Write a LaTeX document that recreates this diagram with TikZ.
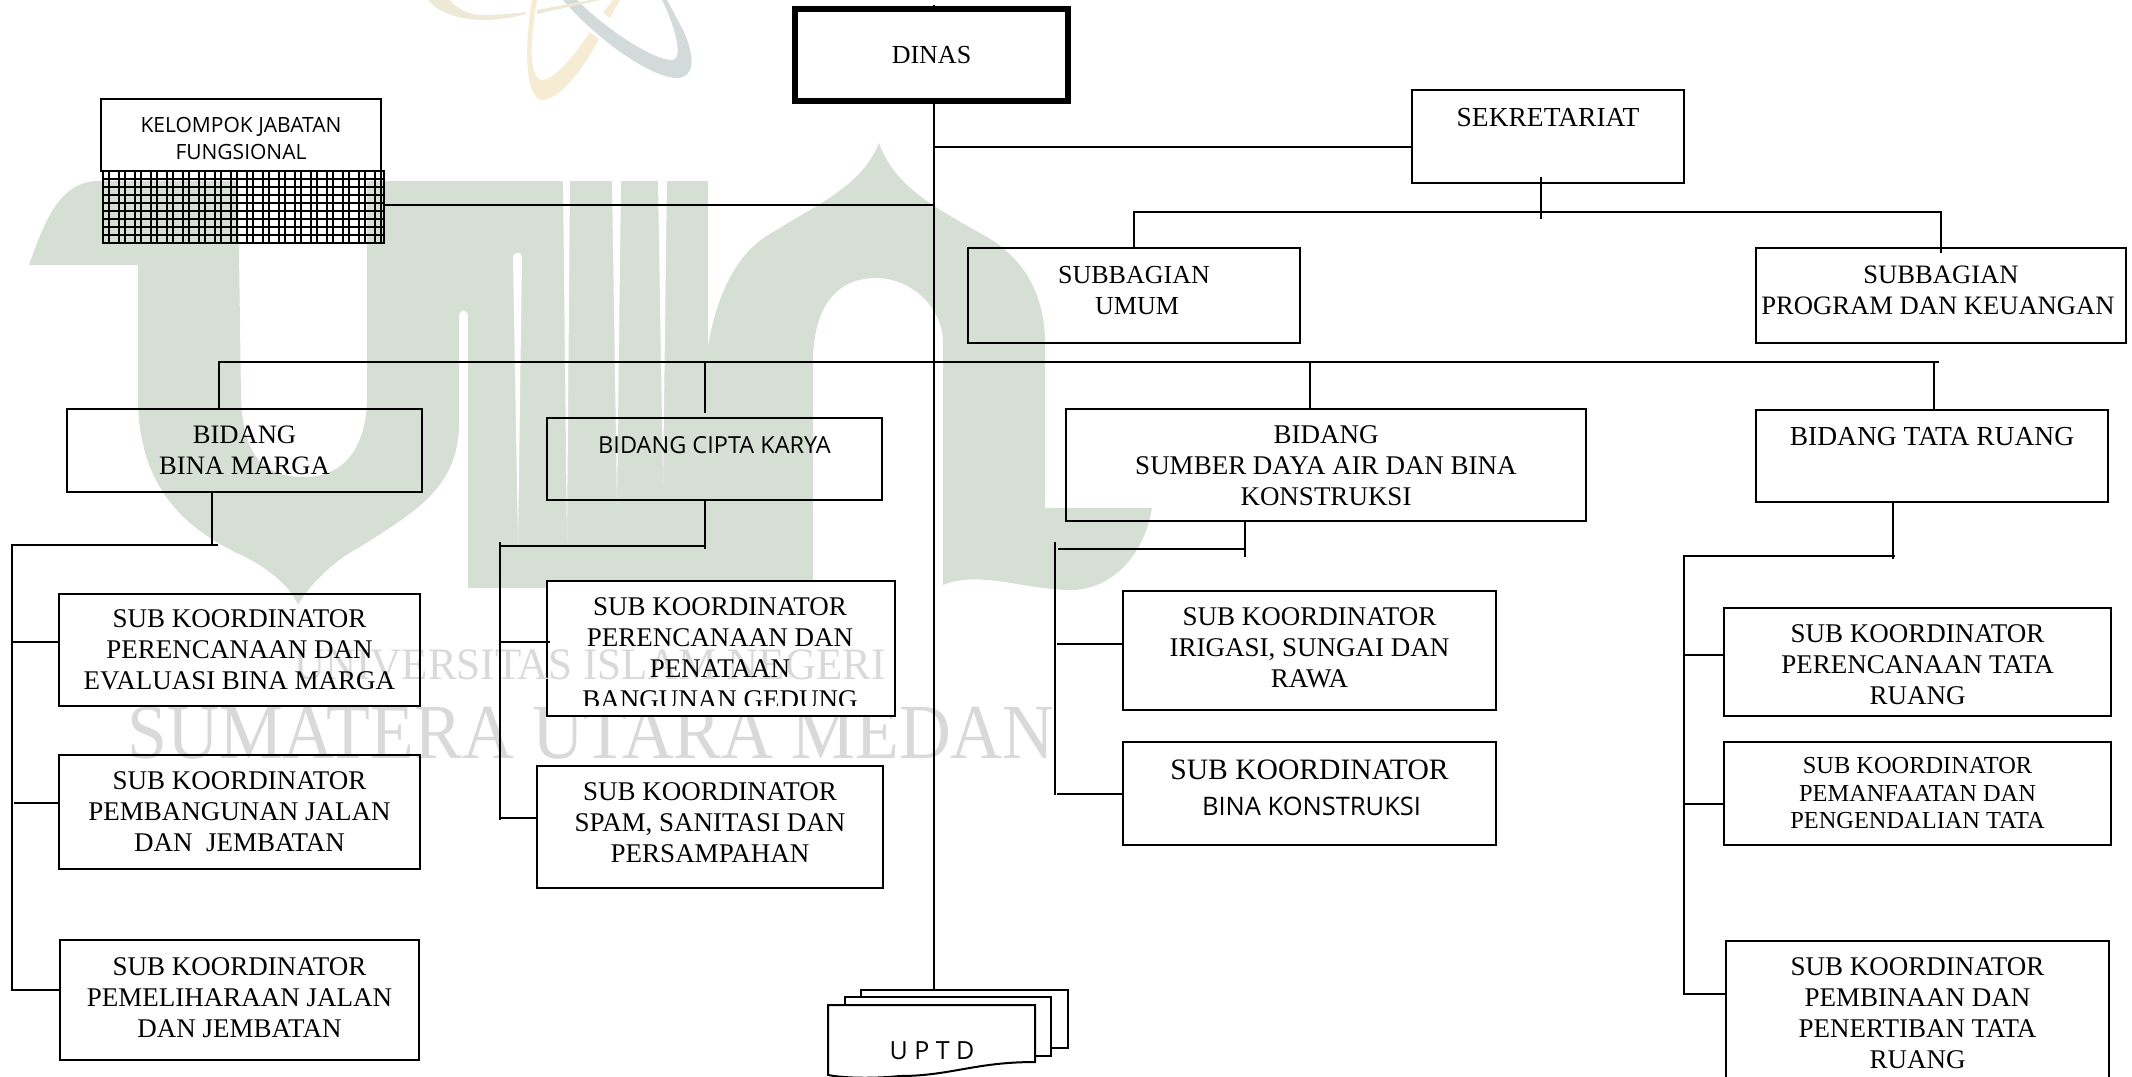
\documentclass[tikz,border=0pt]{standalone}
\usepackage{fontspec}
\setmainfont{Liberation Serif}
\newfontfamily\tahomafont{Open Sans}
\definecolor{markgreen}{HTML}{D6DFD4}
\definecolor{markgrey}{HTML}{D9D9D9}
\definecolor{atomyellow}{HTML}{F6EBD3}
\definecolor{atomblue}{HTML}{D3DBDA}
\definecolor{atombeige}{HTML}{EDE9D6}

\begin{document}
\begin{tikzpicture}[
  x=1pt, y=-1pt,
  line/.style={draw, line width=2pt},
  box/.style={draw, line width=2pt, inner sep=0pt, align=center, font=\fontsize{27}{31}\selectfont},
  sansbox/.style={box, font=\tahomafont\fontsize{21}{27}\selectfont},
  hatchline/.style={draw, line width=1.7pt},
  wmsmall/.style={inner sep=0pt, text=markgrey, transform shape, xscale=0.955, font=\fontsize{45}{45}\selectfont},
  wmlarge/.style={inner sep=0pt, text=markgrey, transform shape, xscale=0.92, font=\fontsize{78}{78}\selectfont}]

  \useasboundingbox (0,0) rectangle (2132,1076);

  % logo behind everything
  \fill[atomyellow] (532,0) .. controls (524,50) and (525,97) .. (542,100) .. controls (563,100) and (590,57) .. (599,39) -- (590,32) .. controls (567,67) and (550,80) .. (543,80) .. controls (528,80) and (530,40) .. (537,0) -- cycle;
  \fill[atomyellow] (610,18) -- (620,0) -- (613,0) -- (603,13) -- cycle;
  \fill[atomblue] (563,0) .. controls (600,43) and (653,78) .. (677,78) .. controls (693,78) and (697,60) .. (683,30) -- (667,0) -- (662,0) .. controls (677,30) and (683,60) .. (672,60) .. controls (653,60) and (607,30) .. (577,0) -- cycle;
  \fill[atombeige] (428,0) .. controls (442,17) and (470,20) .. (483,20) .. controls (500,20) and (515,17) .. (526,14) -- (526,12) .. controls (510,14) and (495,15) .. (483,15) .. controls (470,15) and (458,10) .. (450,0) -- cycle;
  \fill[atombeige] (537,14) -- (537,10) -- (590,0) -- (600,0) -- cycle;

  \fill[markgreen] (29,265) .. controls (46,217) and (61,181) .. (99,181) -- (238,181) -- (241,397)
    .. controls (243,457) and (264,477) .. (305,477) .. controls (344,477) and (367,447) .. (367,397)
    -- (367,181) -- (708,181) -- (708,347) .. controls (716,297) and (735,257) .. (765,237)
    .. controls (819,203) and (861,187) .. (879,143) .. controls (895,187) and (934,207) .. (987,237)
    .. controls (1026,260) and (1045,297) .. (1045,343) -- (1045,508) -- (1152,508)
    .. controls (1144,557) and (1110,590) .. (1071,590) .. controls (1025,590) and (980,570) .. (943,585)
    -- (943,343) .. controls (943,307) and (911,278) .. (876,278) .. controls (834,278) and (813,310) .. (813,363)
    -- (813,588) -- (468,588) -- (468,317) .. controls (468,308) and (459,308) .. (459,317) -- (459,430)
    .. controls (455,490) and (413,513) .. (360,547) .. controls (329,563) and (306,590) .. (298,605)
    .. controls (291,587) and (268,567) .. (237,553) .. controls (168,520) and (138,470) .. (138,397)
    -- (138,265) -- cycle;
  \fill[white] (513,258) .. controls (513,251) and (522,251) .. (522,258) -- (518,543) -- cycle;
  \fill[white] (563,181) -- (570,181) -- (567,543) -- cycle;
  \fill[white] (612,181) -- (621,181) -- (617,505) -- cycle;
  \fill[white] (658,181) -- (667,181) -- (663,483) -- cycle;

  \node[wmlarge] (markLarge) at (591,733) {SUMATERA UTARA MEDAN};
  \node[box, fill=white, minimum width=348pt, minimum height=135pt] (subCiptaA) at (721,648.5) {};
  \node[wmsmall] (markSmall) at (590,665) {UNIVERSITAS ISLAM NEGERI};

  % top boxes
  \node[sansbox, minimum width=280pt, minimum height=72pt] (kelompok) at (241,135) {KELOMPOK JABATAN\\FUNGSIONAL\\[-34pt]~};
  \node[box, minimum width=281pt, minimum height=72pt] (hatch) at (243.5,207) {};
  \node[box, font=\fontsize{27.5}{31}\selectfont, minimum width=272pt, minimum height=93pt] (sekretariat) at (1548,136.5) {SEKRETARIAT\\[7pt]~};
  \node[box, font=\fontsize{26}{31}\selectfont, minimum width=332pt, minimum height=95pt] (subUmum) at (1134,295.5) {SUBBAGIAN\\\hspace*{6pt}UMUM\\[-21pt]~};
  \node[box, font=\fontsize{26.6}{31}\selectfont, minimum width=370pt, minimum height=95pt] (subProgram) at (1941,295.5) {SUBBAGIAN\\\hspace*{-6pt}PROGRAM DAN KEUANGAN\\[-21pt]~};

  \foreach \i in {0,...,17} {
    \draw[hatchline] ({103+16*\i},171) -- ({103+16*\i},243);
    \draw[hatchline] ({109+16*\i},171) -- ({109+16*\i},243);
  }
  \foreach \i in {1,...,8} {
    \draw[hatchline] (103,{171+8*\i}) -- (384,{171+8*\i});
  }

  % bidang row
  \node[box, font=\fontsize{26.6}{31}\selectfont, minimum width=355pt, minimum height=83pt] (binaMarga) at (244.5,450.5) {BIDANG\\BINA MARGA};
  \node[sansbox, font=\tahomafont\fontsize{23.5}{27}\selectfont, minimum width=335pt, minimum height=82pt] (ciptaKarya) at (714.5,459) {BIDANG CIPTA KARYA\\[1pt]~};
  \node[box, minimum width=520pt, minimum height=112pt] (sumberDaya) at (1326,465) {BIDANG\\SUMBER DAYA AIR DAN BINA\\KONSTRUKSI\\[-33pt]~};
  \node[box, font=\fontsize{27.5}{31}\selectfont, minimum width=352pt, minimum height=92pt] (tataRuang) at (1932,456) {BIDANG TATA RUANG\\[9pt]~};

  % sub koordinator
  \node[box, minimum width=361pt, minimum height=112pt] (subMargaA) at (239.5,650) {SUB KOORDINATOR\\PERENCANAAN DAN\\EVALUASI BINA MARGA};
  \node[box, minimum width=361pt, minimum height=114pt] (subMargaB) at (239.5,812) {SUB KOORDINATOR\\PEMBANGUNAN JALAN\\DAN\ \ JEMBATAN};
  \node[box, minimum width=359pt, minimum height=120pt] (subMargaC) at (239.5,1000) {SUB KOORDINATOR\\PEMELIHARAAN JALAN\\DAN JEMBATAN\\[-26pt]~};
  \begin{scope}
    \clip (547,581) rectangle (895,705);
    \node[box, draw=none, anchor=north] (subCiptaAtext) at (720,597) {SUB KOORDINATOR\\PERENCANAAN DAN\\PENATAAN\\BANGUNAN GEDUNG};
  \end{scope}
  \node[box, minimum width=346pt, minimum height=122pt] (subCiptaB) at (710,827) {SUB KOORDINATOR\\SPAM, SANITASI DAN\\PERSAMPAHAN\\[-23pt]~};
  \node[box, minimum width=373pt, minimum height=119pt] (subSumberA) at (1309.5,650.5) {SUB KOORDINATOR\\IRIGASI, SUNGAI DAN\\RAWA\\[-26pt]~};
  \node[box, minimum width=373pt, minimum height=103pt, font=\fontsize{29.6}{36}\selectfont] (subSumberB) at (1309.5,793.5) {SUB KOORDINATOR\\\hspace*{4pt}{\tahomafont\fontsize{25.5}{36}\selectfont BINA KONSTRUKSI}\\[-25pt]~};
  \node[box, minimum width=387pt, minimum height=108pt] (subTataA) at (1917.5,662) {SUB KOORDINATOR\\PERENCANAAN TATA\\RUANG\\[-37pt]~};
  \node[box, minimum width=387pt, minimum height=103pt, font=\fontsize{24.4}{27.5}\selectfont] (subTataB) at (1917.5,793.5) {SUB KOORDINATOR\\PEMANFAATAN DAN\\PENGENDALIAN TATA};
  \node[box, minimum width=383pt, minimum height=169pt] (subTataC) at (1917.5,1025.5) {SUB KOORDINATOR\\PEMBINAAN DAN\\PENERTIBAN TATA\\RUANG\\[-6pt]~};

  % uptd pages
  \node[box, fill=white, minimum width=207pt, minimum height=58pt] (uptdBack) at (964.5,1019) {};
  \node[box, fill=white, minimum width=206pt, minimum height=59pt] (uptdMid) at (948,1026.5) {};
  \draw[line, fill=white] (828,1005) -- (1035,1005) -- (1035,1062) .. controls (975,1062) and (950,1076) .. (900,1076) .. controls (880,1078) and (850,1079) .. (828,1075) -- cycle;
  \node[inner sep=0pt, font=\tahomafont\fontsize{25}{30}\selectfont] (uptdText) at (932,1051) {U P T D};

  % main trunk
  \coordinate (trunkTop) at (934,5);
  \coordinate (sekJoin) at (934,147);
  \coordinate (jfJoin) at (934,204.5);
  \draw[line] (trunkTop) -- (trunkTop |- uptdBack.north);
  \draw[line] (sekJoin) -- (sekJoin -| sekretariat.west);
  \draw[line] (jfJoin) -- (jfJoin -| hatch.east);

  % dinas sits on the trunk
  \node[box, font=\fontsize{26}{31}\selectfont, fill=white, line width=6pt, minimum width=273pt, minimum height=92pt] (dinas) at (931.5,55) {DINAS};

  % sekretariat
  \coordinate (sekStem) at (1541,177);
  \coordinate (sekBus) at (1134,212);
  \draw[line] (sekStem) -- ++(0,42);
  \draw[line] (subUmum.north) -- (sekBus) -- (sekBus -| subProgram.north) -- ++(0,41);

  % bidang bus
  \coordinate (dropMarga) at (219,362);
  \coordinate (dropCipta) at (705,362);
  \coordinate (dropSumber) at (1310,362);
  \coordinate (dropTata) at (1934,362);
  \draw[line] (dropMarga |- binaMarga.north) -- (dropMarga) -- (1939,362);
  \draw[line] (dropCipta) -- ++(0,51);
  \draw[line] (dropSumber) -- (dropSumber |- sumberDaya.north);
  \draw[line] (dropTata) -- (dropTata |- tataRuang.north);

  % bina marga children
  \coordinate (margaStem) at (212,545);
  \coordinate (margaBus) at (12,545);
  \draw[line] (margaStem |- binaMarga.south) -- (margaStem);
  \draw[line] (218,545) -- (margaBus) -- (12,990) -- (12,990 -| subMargaC.west);
  \draw[line] (12,642) -- (subMargaA.west |- 12,642);
  \draw[line] (14,803) -- (subMargaB.west |- 14,803);

  % cipta karya children
  \coordinate (ciptaStem) at (705,546);
  \coordinate (ciptaBus) at (500,546);
  \draw[line] (ciptaStem |- ciptaKarya.south) -- ++(0,48);
  \draw[line] (ciptaStem) -- (ciptaBus);
  \draw[line] (500,542) -- (500,820);
  \draw[line] (500,642) -- (550,642);
  \draw[line] (500,818) -- (subCiptaB.west |- 500,818);

  % sumber daya children
  \coordinate (sumberStem) at (1245,549);
  \draw[line] (sumberStem |- sumberDaya.south) -- ++(0,35);
  \draw[line] (sumberStem) -- (1058,549);
  \draw[line] (1055,542) -- (1055,795);
  \draw[line] (1057,644) -- (subSumberA.west |- 1057,644);
  \draw[line] (1057,794) -- (subSumberB.west |- 1057,794);

  % tata ruang children
  \coordinate (tataStem) at (1893,556);
  \coordinate (tataBus) at (1684,556);
  \draw[line] (tataStem |- tataRuang.south) -- ++(0,56);
  \draw[line] (1895,556) -- (tataBus) -- (1684,994) -- (1684,994 -| subTataC.west);
  \draw[line] (1684,655) -- (subTataA.west |- 1684,655);
  \draw[line] (1684,804) -- (subTataB.west |- 1684,804);

\end{tikzpicture}
\end{document}
